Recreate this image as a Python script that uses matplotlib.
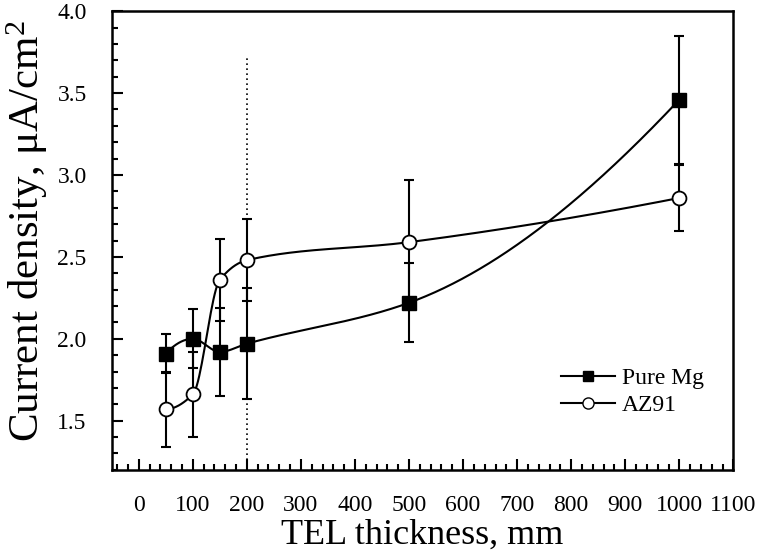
import numpy as np
import matplotlib
matplotlib.use('Agg')
import matplotlib.pyplot as plt
from matplotlib.ticker import MultipleLocator

plt.rcParams['font.family'] = ['Liberation Serif', 'DejaVu Serif']
plt.rcParams['mathtext.fontset'] = 'custom'
plt.rcParams['mathtext.rm'] = 'Liberation Serif'
plt.rcParams['mathtext.it'] = 'Liberation Serif:italic'

thickness = [50, 100, 150, 200, 500, 1000]
pure_mg = [1.91, 2.00, 1.92, 1.97, 2.22, 3.46]
pure_mg_err = [0.12, 0.18, 0.27, 0.34, 0.24, 0.39]
az91 = [1.57, 1.66, 2.36, 2.48, 2.59, 2.86]
az91_err = [0.23, 0.26, 0.25, 0.25, 0.38, 0.20]
marker_line_x = 200
marker_line_top = 3.73


def smooth(x, y, n=400):
	# monotone cubic (pchip) curve through the points, like the spline line in the original
	x = np.asarray(x, float)
	y = np.asarray(y, float)
	h = np.diff(x)
	d = np.diff(y) / h
	m = np.zeros(len(x))
	for k in range(1, len(x) - 1):
		if d[k - 1] * d[k] > 0:
			w1 = 2 * h[k] + h[k - 1]
			w2 = h[k] + 2 * h[k - 1]
			m[k] = (w1 + w2) / (w1 / d[k - 1] + w2 / d[k])
	def end(h0, h1, d0, d1):
		s = ((2 * h0 + h1) * d0 - h0 * d1) / (h0 + h1)
		if np.sign(s) != np.sign(d0):
			s = 0.0
		elif np.sign(d0) != np.sign(d1) and abs(s) > abs(3 * d0):
			s = 3 * d0
		return s
	m[0] = end(h[0], h[1], d[0], d[1])
	m[-1] = end(h[-1], h[-2], d[-1], d[-2])
	xs = np.linspace(x[0], x[-1], n)
	i = np.clip(np.searchsorted(x, xs) - 1, 0, len(x) - 2)
	t = (xs - x[i]) / h[i]
	ys = ((2 * t**3 - 3 * t**2 + 1) * y[i] + (t**3 - 2 * t**2 + t) * h[i] * m[i]
		+ (-2 * t**3 + 3 * t**2) * y[i + 1] + (t**3 - t**2) * h[i] * m[i + 1])
	return xs, ys


fig = plt.figure(figsize=(7.6, 5.6), dpi=100)
ax = fig.add_axes([0.147, 0.161, 0.818, 0.819])

ax.set_xlim(-50, 1100)
ax.set_ylim(1.2, 4.0)

ax.vlines(marker_line_x, 1.2, marker_line_top, colors='black', linestyles=(0, (1, 2)), linewidth=1.2)

xs, ys = smooth(thickness, pure_mg)
ax.plot(xs, ys, color='black', lw=1.5, zorder=3)
ax.errorbar(thickness, pure_mg, yerr=pure_mg_err, fmt='none', ecolor='black', elinewidth=1.5, capsize=3.5, capthick=1.5, zorder=2)
ax.plot(thickness, pure_mg, 's', color='black', ms=9.5, zorder=4)

xs, ys = smooth(thickness, az91)
ax.plot(xs, ys, color='black', lw=1.5, zorder=3)
ax.errorbar(thickness, az91, yerr=az91_err, fmt='none', ecolor='black', elinewidth=1.5, capsize=3.5, capthick=1.5, zorder=2)
ax.plot(thickness, az91, 'o', mfc='white', mec='black', mew=1.3, ms=10, zorder=4)

# legend handles
h1, = ax.plot([], [], '-s', color='black', lw=1.5, ms=7)
h2, = ax.plot([], [], '-o', color='black', mfc='white', lw=1.5, ms=8)
ax.legend([h1, h2], ['Pure Mg', 'AZ91'], loc='center left', bbox_to_anchor=(0.722, 0.17),
	frameon=False, fontsize=17, handlelength=2.3, handletextpad=0.3, labelspacing=0.25,
	borderpad=0, borderaxespad=0)

ax.xaxis.set_major_locator(MultipleLocator(100))
ax.xaxis.set_minor_locator(MultipleLocator(20))
ax.yaxis.set_major_locator(MultipleLocator(0.5))
ax.yaxis.set_minor_locator(MultipleLocator(0.1))
ax.yaxis.set_major_formatter(plt.FormatStrFormatter('%.1f'))
ax.tick_params(which='both', direction='in', top=False, right=False, width=1.5)
ax.tick_params(which='major', length=8, labelsize=17)
ax.tick_params(axis='x', which='major', pad=18)
ax.tick_params(axis='y', which='major', pad=18)
ax.tick_params(which='minor', length=4)
for s in ax.spines.values():
	s.set_linewidth(1.8)

ax.set_xlabel('TEL thickness, mm', fontsize=26, labelpad=2)
ax.set_ylabel('Current density, μA/cm$^2$', fontsize=31)
ax.yaxis.set_label_coords(-0.1, 0.52)

fig.savefig('out.png', dpi=100)
